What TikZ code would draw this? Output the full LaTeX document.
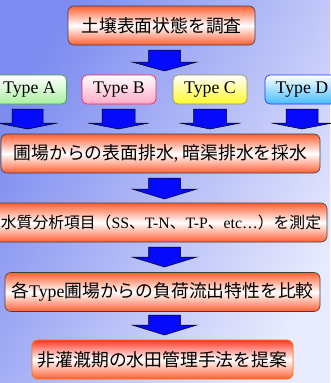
\documentclass[tikz,border=0pt]{standalone}
\usepackage{fontspec}
\setmainfont{Liberation Serif}
\newfontfamily\jp{Noto Sans CJK JP}
\definecolor{bgtl}{RGB}{125,140,240}
\definecolor{bgbr}{RGB}{232,234,253}
\definecolor{orng}{RGB}{255,95,50}
\definecolor{redo}{RGB}{255,55,35}
\definecolor{oborder}{RGB}{255,110,0}
\definecolor{ablue}{RGB}{5,10,250}
\definecolor{gfill}{RGB}{170,240,160}
\definecolor{gline}{RGB}{60,170,60}
\definecolor{pfill}{RGB}{255,170,200}
\definecolor{pline}{RGB}{255,30,70}
\definecolor{yfill}{RGB}{255,250,40}
\definecolor{yline}{RGB}{150,150,80}
\definecolor{cfill}{RGB}{70,190,255}
\definecolor{cline}{RGB}{30,60,255}
\tikzset{
  txt/.style={font=\fontsize{17.8}{20}\selectfont, inner sep=0pt, align=center},
  obox/.style={txt, draw=black!75, line width=0.6pt, rounded corners=6pt,
    top color=orng, bottom color=orng, middle color=white, minimum height=39pt},
  fbox/.style={txt, draw=oborder, line width=0.8pt, rounded corners=6pt,
    top color=redo, bottom color=orng, middle color=white, minimum height=39pt},
  tbox/.style={txt, line width=0.7pt, rounded corners=5pt, minimum height=29pt, minimum width=74pt},
  arrowsty/.style={fill=ablue, draw=black, line width=0.5pt, line join=miter}
}
\newcommand\barrow[6]{%
  \draw[arrowsty] (#1-#5,#2) -- (#1+#5,#2) -- (#1+#5,#3) -- (#1+#6,#3) -- (#1,#4)
    -- (#1-#6,#3) -- (#1-#5,#3) -- cycle;}
\begin{document}
\begin{tikzpicture}[x=1pt,y=-1pt]
\useasboundingbox (0,0) rectangle (330,383);
\shade[top color=bgtl, bottom color=bgbr, shading angle=60] (0,0) rectangle (330,383);

\node[obox, minimum width=187pt] (b1) at (161.5,25.5) {\jp 土壌表面状態を調査};

\node[tbox, draw=gline, top color=white, bottom color=gfill] (ta) at (29.5,89.5) {Type A};
\node[tbox, draw=pline, top color=white, bottom color=pfill] (tb) at (119,89.5) {Type B};
\node[tbox, draw=yline, top color=white, bottom color=yfill] (tc) at (210,89.5) {Type C};
\node[tbox, draw=cline, top color=white, bottom color=cfill] (td) at (302,89.5) {Type D};

\node[obox, minimum width=319pt] (b2) at (160.5,153.5) {{\jp 圃場からの表面排水}, {\jp 暗渠排水を採水}};
\node[obox, minimum width=332pt, font=\fontsize{15.8}{18}\selectfont] (b3) at (161,222.5)
  {{\jp 水質分析項目（}SS{\jp 、}T-N{\jp 、}T-P{\jp 、}etc…{\jp ）を測定}};
\node[obox, minimum width=315pt] (b4) at (162.5,292) {{\jp 各}Type{\jp 圃場からの負荷流出特性を比較}};
\node[fbox, minimum width=261pt] (b5) at (162.5,359.5) {\jp 非灌漑期の水田管理手法を提案};

\barrow{164.5}{50}{62}{71}{16}{32.5}
\barrow{27.5}{109}{123}{129}{15.5}{30}
\barrow{118.5}{109}{123}{129}{16.5}{30.5}
\barrow{210}{109}{123}{129}{16.5}{30.5}
\barrow{302}{109}{123}{129}{16}{30.5}
\barrow{164.5}{178}{189}{199}{16}{32.5}
\barrow{164.5}{247}{257}{267}{16}{32.5}
\barrow{164.5}{315}{325}{335}{16}{32.5}
\end{tikzpicture}
\end{document}
